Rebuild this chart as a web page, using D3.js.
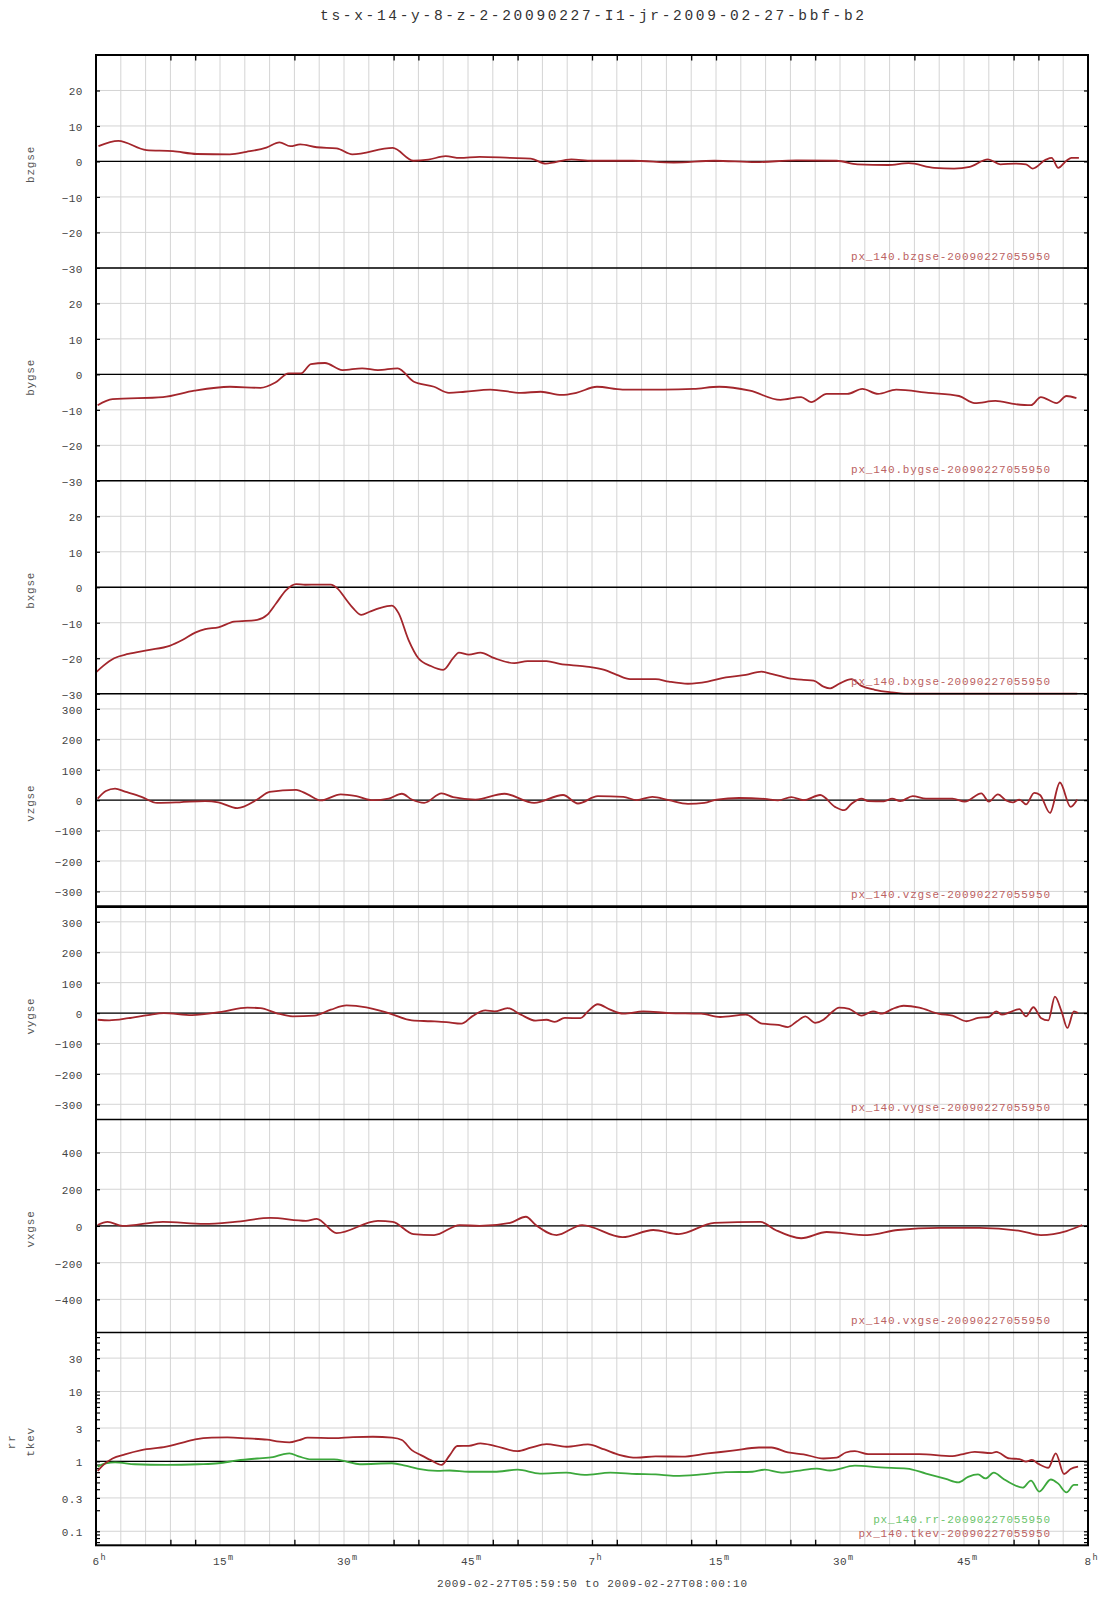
<!DOCTYPE html>
<html><head><meta charset="utf-8">
<script src="https://cdn.jsdelivr.net/npm/d3@7"></script>
<style>
body{margin:0;background:#fff}
svg{display:block}
text{font-family:"Liberation Mono","DejaVu Sans Mono",monospace}
</style>
</head><body>
<svg id="c" width="1107" height="1600"></svg>
<script>
// ---------------- data ----------------
const title = "ts-x-14-y-8-z-2-20090227-I1-jr-2009-02-27-bbf-b2";
const rangeLabel = "2009-02-27T05:59:50 to 2009-02-27T08:00:10";
// x axis: minutes after 06:00
const xTickMinutes = [0, 15, 30, 45, 60, 75, 90, 105, 120];
const xTickLabels = [["6","h"],["15","m"],["30","m"],["45","m"],["7","h"],["15","m"],["30","m"],["45","m"],["8","h"]];
const xMinorTicks = [9, 12, 24, 36, 39, 48, 51, 60, 63, 72, 75, 84, 87, 99, 111, 114];
const panelNames = ["bzgse", "bygse", "bxgse", "vzgse", "vygse", "vxgse"];
const bTicks = [20, 10, 0, -10, -20, -30];
const vTicks = [300, 200, 100, 0, -100, -200, -300];
const vxTicks = [400, 200, 0, -200, -400];
const logTicks = [30, 10, 3, 1, 0.3, 0.1];
const logTickLabels = ["30", "10", "3", "1", "0.3", "0.1"];
const seriesLabels = ["px_140.bzgse-20090227055950","px_140.bygse-20090227055950","px_140.bxgse-20090227055950",
  "px_140.vzgse-20090227055950","px_140.vygse-20090227055950","px_140.vxgse-20090227055950",
  "px_140.rr-20090227055950","px_140.tkev-20090227055950"];

// [minute, value]
const bz = [[0.3,4.3],[2.7,5.8],[6.1,3.2],[9.3,2.9],[12.2,2.1],[16.2,2.0],[18.2,2.7],[20.6,3.9],[22.2,5.4],[23.5,4.3],[24.7,4.8],
 [26.7,4.0],[29.1,3.7],[31.0,2.0],[35.9,3.8],[38.4,0.2],[40.2,0.5],[42.3,1.5],[44.0,1.0],[46.4,1.3],[50.1,1.0],[52.6,0.8],
 [54.4,-0.6],[57.5,0.6],[60.0,0.2],[64.9,0.2],[69.9,-0.3],[74.8,0.2],[79.8,-0.2],[84.7,0.3],[89.6,0.2],[92.1,-0.8],[95.8,-1.0],
 [98.3,-0.5],[101.4,-1.8],[103.8,-2.0],[105.7,-1.5],[107.9,0.6],[109.4,-0.8],[111.2,-0.6],[112.5,-0.8],[113.3,-2.0],[114.9,0.5],
 [115.6,1.0],[116.4,-1.8],[117.4,0.2],[118.0,1.0],[118.9,1.0]];
const by = [[0.2,-8.7],[2.0,-7],[8.1,-6.4],[11.9,-4.6],[16.2,-3.5],[19.9,-3.8],[21.7,-2.3],[23.3,0.3],[24.8,0.3],[26.0,2.9],[27.7,3.2],
 [29.8,1.2],[32.2,1.7],[34.1,1.2],[36.5,1.7],[38.4,-2],[40.9,-3.5],[42.7,-5.2],[44.6,-4.9],[47.7,-4.3],[51.4,-5.2],[53.8,-4.9],
 [56.3,-5.8],[58.1,-5.2],[60.6,-3.5],[63.7,-4.3],[68.6,-4.3],[72.3,-4.1],[75.4,-3.5],[79.1,-4.6],[82.8,-7.2],[85.3,-6.4],[86.5,-7.8],
 [88.4,-5.5],[90.9,-5.5],[92.7,-4.1],[94.6,-5.5],[96.8,-4.3],[100.7,-5.2],[104.4,-6.1],[106.3,-8.1],[108.8,-7.5],[111.2,-8.4],
 [113.1,-8.7],[114.3,-6.4],[116.2,-8.1],[117.4,-6.1],[118.6,-6.7]];
const bx = [[0,-24],[0.8,-22.3],[2.2,-20],[3.9,-18.8],[6.3,-17.7],[8.9,-16.5],[10.5,-14.8],[12.0,-12.8],[13.2,-11.8],[14.8,-11.3],
 [16.7,-9.7],[19.5,-9.2],[20.7,-7.8],[21.8,-4.5],[23.0,-0.8],[24.2,0.9],[25.3,0.7],[26.8,0.75],[28.4,0.75],[29.2,-0.3],[30.3,-3.6],
 [31.1,-5.9],[32.1,-7.8],[33.1,-6.9],[34.3,-5.9],[35.8,-5.2],[36.6,-7.3],[37.8,-14.8],[39.0,-20],[40.5,-22.2],[42.0,-23.3],
 [43.2,-20],[43.9,-18.4],[45.1,-19.0],[46.5,-18.4],[48.2,-20],[50.6,-21.4],[52.2,-20.8],[54.5,-20.8],[56.1,-21.6],[59.1,-22.3],
 [61.5,-23.3],[63.0,-24.7],[64.6,-25.9],[67.7,-25.9],[69.3,-26.6],[71.6,-27.2],[74.0,-26.6],[76.2,-25.4],[78.6,-24.7],[80.5,-23.8],
 [81.7,-24.4],[83.7,-25.6],[85.6,-26.1],[86.8,-26.3],[88.0,-28.0],[88.8,-28.5],[89.9,-27.2],[91.4,-25.9],[92.6,-27.8],[94.2,-28.9],
 [96.1,-29.6],[98.1,-30.5],[105,-32],[112,-33],[118.7,-33]];
const vz = [[0.2,5],[1.2,30],[2.3,38],[3.5,28],[5.5,11],[7.4,-9],[10.1,-7],[13.2,-3],[14.8,-7],[17.1,-26],[19.5,2],[21.0,27],[24.2,34],
 [25.6,19],[27.2,-1],[29.6,19],[31.5,13],[33.5,0],[35.4,5],[37.0,21],[38.2,2],[39.7,-9],[41.8,22],[43.2,10],[45.9,2],[49.4,21],
 [53.0,-9],[56.5,17],[58.3,-11],[60.7,13],[63.8,11],[65.4,0],[67.3,11],[69.3,0],[71.6,-12],[73.6,-9],[75.1,2],[77.8,7],[80.9,4],
 [82.5,-1],[84.1,10],[85.6,0],[87.6,17],[89.4,-22],[90.5,-33],[91.4,-12],[92.6,5],[93.4,-3],[95.3,-4],[96.3,5],[97.3,-3],[98.8,13],
 [100.4,5],[103.6,5],[105.1,-5],[107.1,22],[108.0,-5],[109.1,19],[110.1,-1],[110.9,-7],[111.7,2],[112.5,-14],[113.5,24],[114.2,17],
 [115.4,-42],[116.6,58],[117.9,-22],[118.7,2]];
const vy = [[0.2,-22],[1.6,-24],[3.9,-17],[6.3,-6.5],[8.2,0],[11.6,-6.5],[15.2,4],[18.3,18],[19.9,16],[21.8,0],[23.8,-11],[26.4,-8.6],
 [28.4,11],[30.3,25],[32.7,19],[35.4,0],[38.2,-24],[40.5,-27],[42.4,-30],[44.2,-35],[45.5,-11],[47.1,8.6],[48.2,5.4],[49.8,16],
 [51.4,-5.4],[53.2,-25],[54.5,-22],[55.5,-29],[56.7,-16],[58.6,-17],[59.5,5.4],[60.7,29],[62.2,11],[63.8,-2],[66.2,5.4],[69.3,0],
 [73.2,-2],[75.5,-13],[78.6,-5.4],[80.6,-35],[82.5,-39],[83.7,-46],[84.8,-27],[85.8,-11],[87.0,-32],[88.0,-22],[88.9,0],[89.9,18],
 [91.1,14],[92.6,-8.6],[94.0,5.4],[95.1,-2],[96.3,13],[97.7,24],[99.6,18],[102.0,-3],[103.6,-8.6],[105.3,-27],[106.7,-16],[108.0,-13],
 [108.9,5.4],[109.6,-5.4],[110.5,2],[111.7,13],[112.5,-11],[113.4,19],[114.3,-16],[115.2,-24],[116.0,54],[116.8,5.4],[117.5,-49],
 [118.3,5.4],[118.8,0]];
const vx = [[0.2,5],[1.4,22],[3.2,0],[8.1,22],[13.1,11],[16.8,22],[21.1,44],[25.4,28],[26.7,39],[29.1,-39],[34.1,28],[35.9,22],
 [38.4,-44],[40.9,-50],[44.0,5],[46.4,0],[50.1,17],[52.0,50],[53.2,5],[55.7,-50],[58.8,5],[63.7,-61],[67.4,-22],[70.5,-44],[74.8,17],
 [80.4,22],[82.2,-22],[85.3,-67],[88.4,-33],[93.3,-50],[97.0,-22],[102.0,-11],[106.9,-11],[111.9,-28],[114.3,-50],[117.4,-28],[119.3,5]];
const rr = [[0.2,0.84],[1.2,0.94],[2.3,0.97],[4.7,0.91],[8.5,0.89],[12.4,0.91],[14.8,0.94],[17.1,1.03],[19.5,1.10],[21.4,1.15],
 [22.6,1.26],[23.4,1.30],[24.6,1.17],[26.0,1.07],[28.8,1.07],[30.3,0.99],[31.9,0.91],[35.8,0.94],[37.4,0.87],[39.0,0.78],[41.3,0.73],
 [42.8,0.74],[45.1,0.71],[48.2,0.71],[51.0,0.76],[53.7,0.67],[56.9,0.69],[59.1,0.64],[62.2,0.69],[65.4,0.66],[67.7,0.65],[70.1,0.62],
 [73.2,0.65],[76.2,0.70],[79.4,0.71],[80.9,0.76],[82.9,0.69],[84.8,0.73],[87.2,0.79],[88.8,0.74],[91.8,0.87],[94.9,0.82],[98.1,0.79],
 [100.4,0.67],[102.8,0.56],[104.3,0.50],[105.5,0.60],[106.7,0.65],[107.6,0.57],[108.6,0.69],[109.7,0.57],[110.9,0.47],[112.1,0.42],
 [113.1,0.53],[114.1,0.37],[115.5,0.55],[116.4,0.48],[117.4,0.36],[118.3,0.46],[118.8,0.46]];
const tkev = [[0.2,0.73],[0.8,0.87],[2.0,1.10],[3.5,1.26],[5.5,1.45],[8.5,1.62],[10.1,1.81],[12.0,2.06],[14.0,2.18],[15.9,2.2],
 [18.3,2.13],[20.7,2.04],[22.2,1.91],[23.4,1.87],[24.6,2.02],[25.6,2.18],[28.8,2.15],[31.1,2.23],[33.5,2.25],[35.8,2.18],[37.0,2.02],
 [38.2,1.45],[39.3,1.23],[40.5,1.04],[41.8,0.89],[42.8,1.23],[43.7,1.66],[45.1,1.67],[46.5,1.81],[48.2,1.67],[51.0,1.40],[52.6,1.57],
 [54.5,1.77],[56.9,1.62],[59.5,1.75],[61.5,1.48],[63.4,1.23],[65.4,1.13],[67.7,1.18],[70.9,1.17],[74.0,1.30],[77.0,1.42],[80.2,1.58],
 [81.7,1.58],[83.7,1.34],[85.6,1.26],[88.0,1.10],[89.6,1.13],[90.7,1.34],[91.8,1.40],[93.4,1.27],[97.3,1.27],[99.6,1.27],[103.6,1.19],
 [104.7,1.26],[106.3,1.37],[108.3,1.31],[108.9,1.37],[110.5,1.10],[111.7,1.08],[112.5,0.99],[113.2,1.05],[114.0,0.92],[115.2,0.81],
 [116.1,1.30],[117.1,0.66],[117.9,0.78],[118.8,0.84]];

// ---------------- layout ----------------
const X0 = 96, X1 = 1088, TOP = 55, PH = 212.9;
const RED = "#a3262c", GREEN = "#3ca83c", RED_LBL = "#bb6262", GREEN_LBL = "#6cc46c";
const GRID = "#d4d4d4", TXT = "#444";

const svg = d3.select("#c");
const x = d3.scaleLinear().domain([0, 120]).range([X0, X1]);

const panels = [
  {name:[panelNames[0]], dom:[-30,30], ticks:bTicks, series:[{d:bz, c:RED, l:seriesLabels[0], lc:RED_LBL}]},
  {name:[panelNames[1]], dom:[-30,30], ticks:bTicks, series:[{d:by, c:RED, l:seriesLabels[1], lc:RED_LBL}]},
  {name:[panelNames[2]], dom:[-30,30], ticks:bTicks, series:[{d:bx, c:RED, l:seriesLabels[2], lc:RED_LBL}]},
  {name:[panelNames[3]], dom:[-350,350], ticks:vTicks, series:[{d:vz, c:RED, l:seriesLabels[3], lc:RED_LBL}]},
  {name:[panelNames[4]], dom:[-350,350], ticks:vTicks, series:[{d:vy, c:RED, l:seriesLabels[4], lc:RED_LBL}]},
  {name:[panelNames[5]], dom:[-580,580], ticks:vxTicks, series:[{d:vx, c:RED, l:seriesLabels[5], lc:RED_LBL}]},
  {name:["rr","tkev"], log:true, dom:[0.063,70], ticks:logTicks, tickLabels:logTickLabels,
     series:[{d:rr, c:GREEN, l:seriesLabels[6], lc:GREEN_LBL},{d:tkev, c:RED, l:seriesLabels[7], lc:RED_LBL}]}
];

// vertical grid (every 3 minutes)
const gGrid = svg.append("g");
gGrid.selectAll("line.v").data(d3.range(3, 120, 3)).join("line")
  .attr("x1", d => x(d)).attr("x2", d => x(d)).attr("y1", TOP).attr("y2", TOP + 7*PH)
  .attr("stroke", GRID).attr("stroke-width", 1);

const PAD = 13.3;
panels.forEach((p, i) => {
  const top = TOP + i*PH, bot = top + PH;
  const y = (p.log ? d3.scaleLog() : d3.scaleLinear()).domain(p.dom).range([bot, top]).clamp(true);
  const g = svg.append("g");
  // horizontal grid
  g.selectAll("line.h").data(p.ticks).join("line")
    .attr("x1", X0).attr("x2", X1).attr("y1", d => y(d)).attr("y2", d => y(d))
    .attr("stroke", GRID).attr("stroke-width", 1);
  // zero / unity reference line
  const ref = p.log ? 1 : 0;
  g.append("line").attr("x1", X0).attr("x2", X1).attr("y1", y(ref)).attr("y2", y(ref))
    .attr("stroke", "#000").attr("stroke-width", 1.3);
  // tick labels
  const fmt = p.tickLabels ? (d => p.tickLabels[p.ticks.indexOf(d)]) : d3.format("d");
  const ax = g.append("g").attr("transform", `translate(${X0},0)`)
    .call(d3.axisLeft(y).tickValues(p.ticks).tickSize(0).tickPadding(PAD).tickFormat(fmt));
  ax.select(".domain").remove();
  ax.selectAll("text").attr("font-family", "Liberation Mono, monospace").attr("font-size", 11)
    .attr("fill", TXT).attr("letter-spacing", 0.4).attr("dy", "0.4em");
  // inner tick marks left & right
  const minor = p.log ? [0.07,0.08,0.09,0.2,0.4,0.5,0.6,0.7,0.8,0.9,2,4,5,6,7,8,9,20,40,50,60].filter(v => v >= p.dom[0] && v <= p.dom[1]) : [];
  const tl = g.append("g").attr("transform", `translate(${X0},0)`)
    .call(d3.axisRight(y).tickValues(p.ticks.concat(minor)).tickSize(4).tickFormat(""));
  tl.select(".domain").remove();
  tl.selectAll("line").attr("stroke", "#000").attr("stroke-width", 1.2);
  const tr = g.append("g").attr("transform", `translate(${X1},0)`)
    .call(d3.axisLeft(y).tickValues(p.ticks.concat(minor)).tickSize(4).tickFormat(""));
  tr.select(".domain").remove();
  tr.selectAll("line").attr("stroke", "#000").attr("stroke-width", 1.2);
  // lines
  const line = d3.line().x(d => x(d[0])).y(d => y(d[1])).curve(d3.curveMonotoneX);
  p.series.forEach(s => {
    g.append("path").attr("d", line(s.d)).attr("fill", "none")
      .attr("stroke", s.c).attr("stroke-width", 1.8).attr("stroke-linejoin", "round");
  });
  // series labels (bottom right)
  p.series.slice().reverse().forEach((s, k) => {
    const len = s.l.length * 7.4 - 0.8;
    g.append("text").attr("x", 1050 - len).attr("y", bot - 8.3 - k*13.6)
      .attr("textLength", len).attr("lengthAdjust", "spacing")
      .attr("font-size", 11).attr("fill", s.lc).text(s.l);
  });
  // y axis name(s)
  const cy = (top + bot)/2 + 3;
  if (p.name.length === 1) {
    g.append("text").attr("transform", `translate(33.5,${cy}) rotate(-90)`)
      .attr("text-anchor", "middle").attr("font-size", 11).attr("letter-spacing", 0.8).attr("fill", "#555").text(p.name[0]);
  } else {
    g.append("text").attr("transform", `translate(15,${cy}) rotate(-90)`)
      .attr("text-anchor", "middle").attr("font-size", 11).attr("letter-spacing", 0.8).attr("fill", "#555").text(p.name[0]);
    g.append("text").attr("transform", `translate(34,${cy}) rotate(-90)`)
      .attr("text-anchor", "middle").attr("font-size", 11).attr("letter-spacing", 0.8).attr("fill", "#555").text(p.name[1]);
  }
  // panel bottom boundary
  if (i < panels.length - 1) {
    g.append("line").attr("x1", X0).attr("x2", X1).attr("y1", bot).attr("y2", bot)
      .attr("stroke", "#000").attr("stroke-width", i === 3 ? 2.6 : 1.5);
  }
});

// frame
svg.append("rect").attr("x", X0).attr("y", TOP).attr("width", X1 - X0).attr("height", 7*PH)
  .attr("fill", "none").attr("stroke", "#000").attr("stroke-width", 2);

// x minor ticks top & bottom
const xt = svg.append("g").attr("transform", `translate(0,${TOP})`)
  .call(d3.axisBottom(x).tickValues(xMinorTicks).tickSize(5.5).tickFormat(""));
xt.select(".domain").remove(); xt.selectAll("line").attr("stroke", "#000").attr("stroke-width", 1.3);
const xb = svg.append("g").attr("transform", `translate(0,${TOP + 7*PH})`)
  .call(d3.axisTop(x).tickValues(xMinorTicks).tickSize(5.5).tickFormat(""));
xb.select(".domain").remove(); xb.selectAll("line").attr("stroke", "#000").attr("stroke-width", 1.3);

// x tick labels with superscripts
const xl = svg.append("g");
xTickMinutes.forEach((m, i) => {
  const [num, sup] = xTickLabels[i];
  const w = num.length * 7;
  xl.append("text").attr("x", x(m)).attr("y", 1564.5).attr("text-anchor", "middle")
    .attr("font-size", 11).attr("letter-spacing", 0.4).attr("fill", TXT).text(num);
  xl.append("text").attr("x", x(m) + w/2 + 1).attr("y", 1559.5)
    .attr("font-size", 8.5).attr("fill", TXT).text(sup);
});

// title and time range
svg.append("text").attr("x", (X0 + X1)/2 - 272).attr("y", 19.8)
  .attr("textLength", 544).attr("lengthAdjust", "spacing")
  .attr("font-size", 14.5).attr("fill", "#333").text(title);
svg.append("text").attr("x", (X0 + X1)/2 - 155).attr("y", 1586.5)
  .attr("textLength", 310).attr("lengthAdjust", "spacing")
  .attr("font-size", 11).attr("fill", TXT).text(rangeLabel);
</script>
</body></html>
